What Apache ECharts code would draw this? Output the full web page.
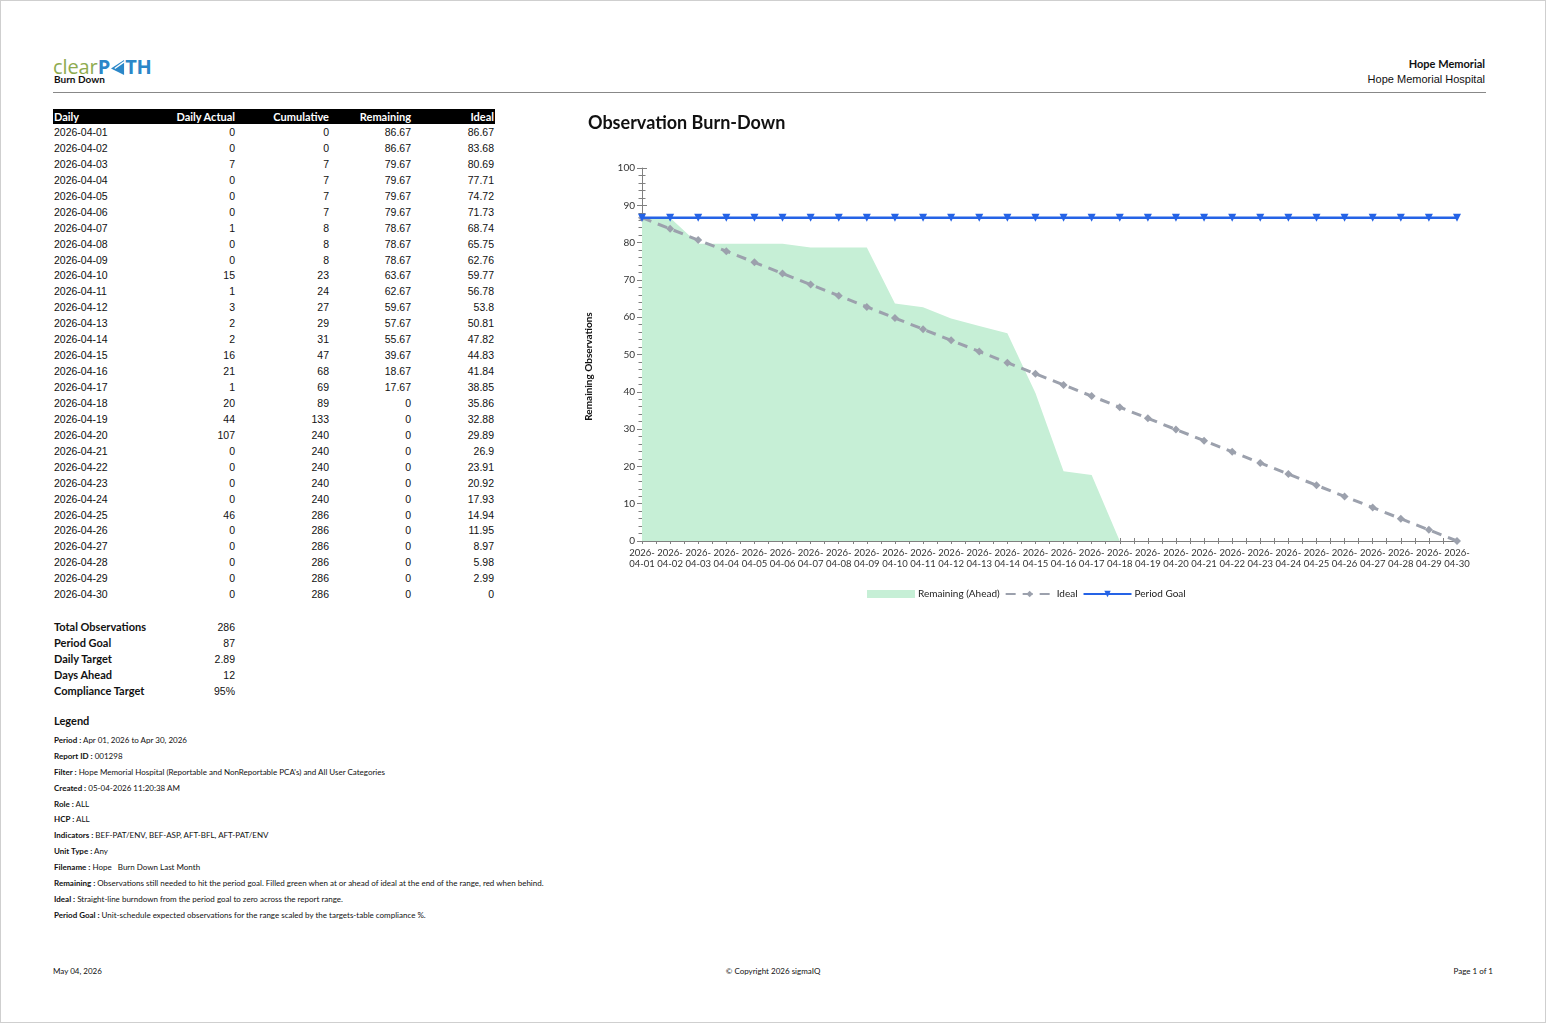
<!DOCTYPE html>
<html>
<head>
<meta charset="utf-8">
<script src="https://cdn.jsdelivr.net/npm/echarts@6/dist/echarts.min.js"></script>
<style>
  html, body { margin:0; padding:0; background:#fff; }
  #page { position:relative; width:1546px; height:1023px; outline:1px solid #cfcfcf; outline-offset:-1px; overflow:hidden; font-family:Lato, "Open Sans", sans-serif; color:#111; }
  .abs { position:absolute; }
  #logo { left:53px; top:54px; font-family:"Open Sans", Lato, sans-serif; font-size:20px; line-height:26px; white-space:nowrap; letter-spacing:-0.1px; }
  #logo .g { color:#8eab4f; }
  #logo .b { color:#2b87c8; font-weight:700; }
  #sub { left:54px; top:73px; font-size:10px; font-weight:700; }
  #rule { left:53px; top:92px; width:1433px; height:1px; background:#888; }
  #hr1 { right:61px; top:57px; font-size:11px; font-weight:700; text-align:right; }
  #hr2 { right:61px; top:73px; font-size:11px; font-family:"Liberation Sans", Arial, sans-serif; text-align:right; }
  table { border-collapse:collapse; table-layout:fixed; }
  #tbl { left:53px; top:109px; width:442px; }
  #tbl th { background:#000; color:#fff; font-size:11px; font-weight:700; height:15px; padding:0 1px; line-height:15px; }
  #tbl td { font-family:"Liberation Sans", Arial, sans-serif; font-size:10.5px; height:15.93px; line-height:15.93px; padding:0 1px; }
  #tbl tbody tr:first-child td { padding-top:1px; }
  .l { text-align:left; } .r { text-align:right; }
  #sum { left:53px; top:619px; width:183px; }
  #sum td { font-size:11px; height:16px; line-height:16px; padding:0 1px; white-space:nowrap; }
  #sum td.k { font-weight:700; }
  #sum td.v { font-family:"Liberation Sans", Arial, sans-serif; font-size:10.5px; text-align:right; }
  #legh { left:54px; top:714px; font-size:11px; font-weight:700; }
  #legl { left:54px; top:734px; font-size:8px; }
  #legl div { height:15.9px; line-height:12px; white-space:nowrap; }
  #legl b { font-weight:700; }
  .foot { top:966px; font-size:8px; }
  #chart { left:576px; top:101px; width:920px; height:520px; }
</style>
</head>
<body>
<div id="page">
  <div id="logo" class="abs"><span class="g">clear</span><span class="b">P<svg width="14" height="15" viewBox="0 0 15 16" style="vertical-align:-1px;margin:0 0.5px"><polygon points="14,0 14,16 0,9" fill="#2b87c8"/><line x1="14" y1="2" x2="4" y2="9" stroke="#fff" stroke-width="1.4"/></svg>TH</span></div>
  <div id="sub" class="abs">Burn Down</div>
  <div id="hr1" class="abs">Hope Memorial</div>
  <div id="hr2" class="abs">Hope Memorial Hospital</div>
  <div id="rule" class="abs"></div>

  <table id="tbl" class="abs">
    <colgroup><col style="width:100px"><col style="width:83px"><col style="width:94px"><col style="width:82px"><col style="width:83px"></colgroup>
    <thead><tr id="thead"></tr></thead>
    <tbody id="tbody"></tbody>
  </table>

  <table id="sum" class="abs">
    <colgroup><col style="width:140px"><col style="width:43px"></colgroup>
    <tbody id="sbody"></tbody>
  </table>

  <div id="legh" class="abs">Legend</div>
  <div id="legl" class="abs"></div>

  <div class="abs foot" style="left:53px">May 04, 2026</div>
  <div class="abs foot" style="left:0;width:1546px;text-align:center">© Copyright 2026 sigmaIQ</div>
  <div class="abs foot" style="right:53px">Page 1 of 1</div>

  <div id="chart" class="abs"></div>
</div>
<script>
// ---- Data ----
const dates = ["2026-04-01","2026-04-02","2026-04-03","2026-04-04","2026-04-05","2026-04-06","2026-04-07","2026-04-08","2026-04-09","2026-04-10","2026-04-11","2026-04-12","2026-04-13","2026-04-14","2026-04-15","2026-04-16","2026-04-17","2026-04-18","2026-04-19","2026-04-20","2026-04-21","2026-04-22","2026-04-23","2026-04-24","2026-04-25","2026-04-26","2026-04-27","2026-04-28","2026-04-29","2026-04-30"];
const dailyActual = [0,0,7,0,0,0,1,0,0,15,1,3,2,2,16,21,1,20,44,107,0,0,0,0,46,0,0,0,0,0];
const cumulative = [0,0,7,7,7,7,8,8,8,23,24,27,29,31,47,68,69,89,133,240,240,240,240,240,286,286,286,286,286,286];
const remaining = [86.67,86.67,79.67,79.67,79.67,79.67,78.67,78.67,78.67,63.67,62.67,59.67,57.67,55.67,39.67,18.67,17.67,0,0,0,0,0,0,0,0,0,0,0,0,0];
const ideal = [86.67,83.68,80.69,77.71,74.72,71.73,68.74,65.75,62.76,59.77,56.78,53.8,50.81,47.82,44.83,41.84,38.85,35.86,32.88,29.89,26.9,23.91,20.92,17.93,14.94,11.95,8.97,5.98,2.99,0];
const periodGoal = [86.67,86.67,86.67,86.67,86.67,86.67,86.67,86.67,86.67,86.67,86.67,86.67,86.67,86.67,86.67,86.67,86.67,86.67,86.67,86.67,86.67,86.67,86.67,86.67,86.67,86.67,86.67,86.67,86.67,86.67];
const tableHeaders = ["Daily","Daily Actual","Cumulative","Remaining","Ideal"];
const summaryLabels = ["Total Observations","Period Goal","Daily Target","Days Ahead","Compliance Target"];
const summaryValues = ["286","87","2.89","12","95%"];
const legendKeys = ["Period","Report ID","Filter","Created","Role","HCP","Indicators","Unit Type","Filename","Remaining","Ideal","Period Goal"];
const legendTexts = ["Apr 01, 2026 to Apr 30, 2026","001298","Hope Memorial Hospital (Reportable and NonReportable PCA's) and All User Categories","05-04-2026 11:20:38 AM","ALL","ALL","BEF-PAT/ENV, BEF-ASP, AFT-BFL, AFT-PAT/ENV","Any","Hope &nbsp; Burn Down Last Month","Observations still needed to hit the period goal. Filled green when at or ahead of ideal at the end of the range, red when behind.","Straight-line burndown from the period goal to zero across the report range.","Unit-schedule expected observations for the range scaled by the targets-table compliance %."];
const seriesNames = ["Remaining (Ahead)","Ideal","Period Goal"];
const yTitle = "Remaining Observations";
const chartTitle = "Observation Burn-Down";

// ---- Tables ----
document.getElementById('thead').innerHTML = tableHeaders.map((h,i)=>`<th class="${i===0?'l':'r'}">${h}</th>`).join('');
document.getElementById('tbody').innerHTML = dates.map((d,i)=>`<tr><td class="l">${d}</td><td class="r">${dailyActual[i]}</td><td class="r">${cumulative[i]}</td><td class="r">${remaining[i]}</td><td class="r">${ideal[i]}</td></tr>`).join('');
document.getElementById('sbody').innerHTML = summaryLabels.map((k,i)=>`<tr><td class="k">${k}</td><td class="v">${summaryValues[i]}</td></tr>`).join('');
document.getElementById('legl').innerHTML = legendKeys.map((k,i)=>`<div><b>${k} :</b> ${legendTexts[i]}</div>`).join('');

// ---- Chart ----
const chart = echarts.init(document.getElementById('chart'));
const pts = arr => arr.map((v,i)=>[i,v]);
const axisCol = '#808080';
const font = 'Lato';
const option = {
  animation:false,
  textStyle:{fontFamily:font},
  title:{text:chartTitle, left:7, top:8, textStyle:{fontSize:18, fontWeight:'bold', color:'#111', fontFamily:font}},
  grid:{left:62, top:67, width:819, height:373, containLabel:false},
  legend:{
    left:291, top:488, padding:0, itemWidth:48, itemHeight:8, itemGap:5,
    textStyle:{fontSize:10, color:'#222', fontFamily:font, padding:[0,0,0,-2]},
    data:[{name:seriesNames[0], icon:'rect'},{name:seriesNames[1]},{name:seriesNames[2]}]
  },
  xAxis:[
    {type:'value', min:0, max:dates.length-1, interval:1, position:'bottom',
     axisLine:{lineStyle:{color:axisCol}}, axisTick:{length:3, lineStyle:{color:axisCol}},
     minorTick:{show:true, splitNumber:2, length:3, lineStyle:{color:axisCol}},
     splitLine:{show:false},
     axisLabel:{formatter:v=>{const d=dates[v]; return d? d.slice(0,5)+'\n'+d.slice(5):'';}, fontSize:9.5, color:'#333', lineHeight:11, margin:6, fontFamily:font}},
    {type:'value', min:0, max:dates.length-1, interval:1, position:'bottom', offset:0,
     axisLine:{show:false}, axisLabel:{show:false}, splitLine:{show:false},
     axisTick:{inside:true, length:3, lineStyle:{color:axisCol}},
     minorTick:{show:true, splitNumber:2, length:3, lineStyle:{color:axisCol}}}
  ],
  yAxis:[
    {type:'value', min:0, max:100, interval:10, position:'left',
     name:yTitle, nameLocation:'middle', nameGap:48, nameRotate:90,
     nameTextStyle:{fontSize:10, fontWeight:'bold', color:'#111', fontFamily:font, padding:[0,24,0,0]},
     axisLine:{show:true, lineStyle:{color:axisCol}}, axisTick:{show:true, length:5, lineStyle:{color:axisCol}},
     minorTick:{show:true, splitNumber:5, length:3.5, lineStyle:{color:axisCol}},
     splitLine:{show:false},
     axisLabel:{fontSize:10, color:'#333', margin:7, fontFamily:font}},
    {type:'value', min:0, max:100, interval:10, position:'left', offset:0,
     axisLine:{show:false}, axisLabel:{show:false}, splitLine:{show:false},
     axisTick:{show:true, inside:true, length:5, lineStyle:{color:axisCol}},
     minorTick:{show:true, splitNumber:5, length:3.5, lineStyle:{color:axisCol}}}
  ],
  series:[
    {name:seriesNames[0], type:'line', data:pts(remaining), symbol:'none', showSymbol:false,
     lineStyle:{width:0, color:'#c6efd6'}, itemStyle:{color:'#c6efd6'},
     areaStyle:{color:'#c6efd6', opacity:1}, z:1},
    {name:seriesNames[1], type:'line', data:pts(ideal), symbol:'diamond', symbolSize:8,
     lineStyle:{width:3, type:[10,7], color:'#9ca1ad'}, itemStyle:{color:'#9ca1ad'}, z:3},
    {name:seriesNames[2], type:'line', data:pts(periodGoal), symbol:'triangle', symbolRotate:180, symbolSize:8,
     lineStyle:{width:2.5, color:'#2563e6'}, itemStyle:{color:'#2563e6'}, z:4}
  ]
};
chart.setOption(option);
</script>
</body>
</html>
